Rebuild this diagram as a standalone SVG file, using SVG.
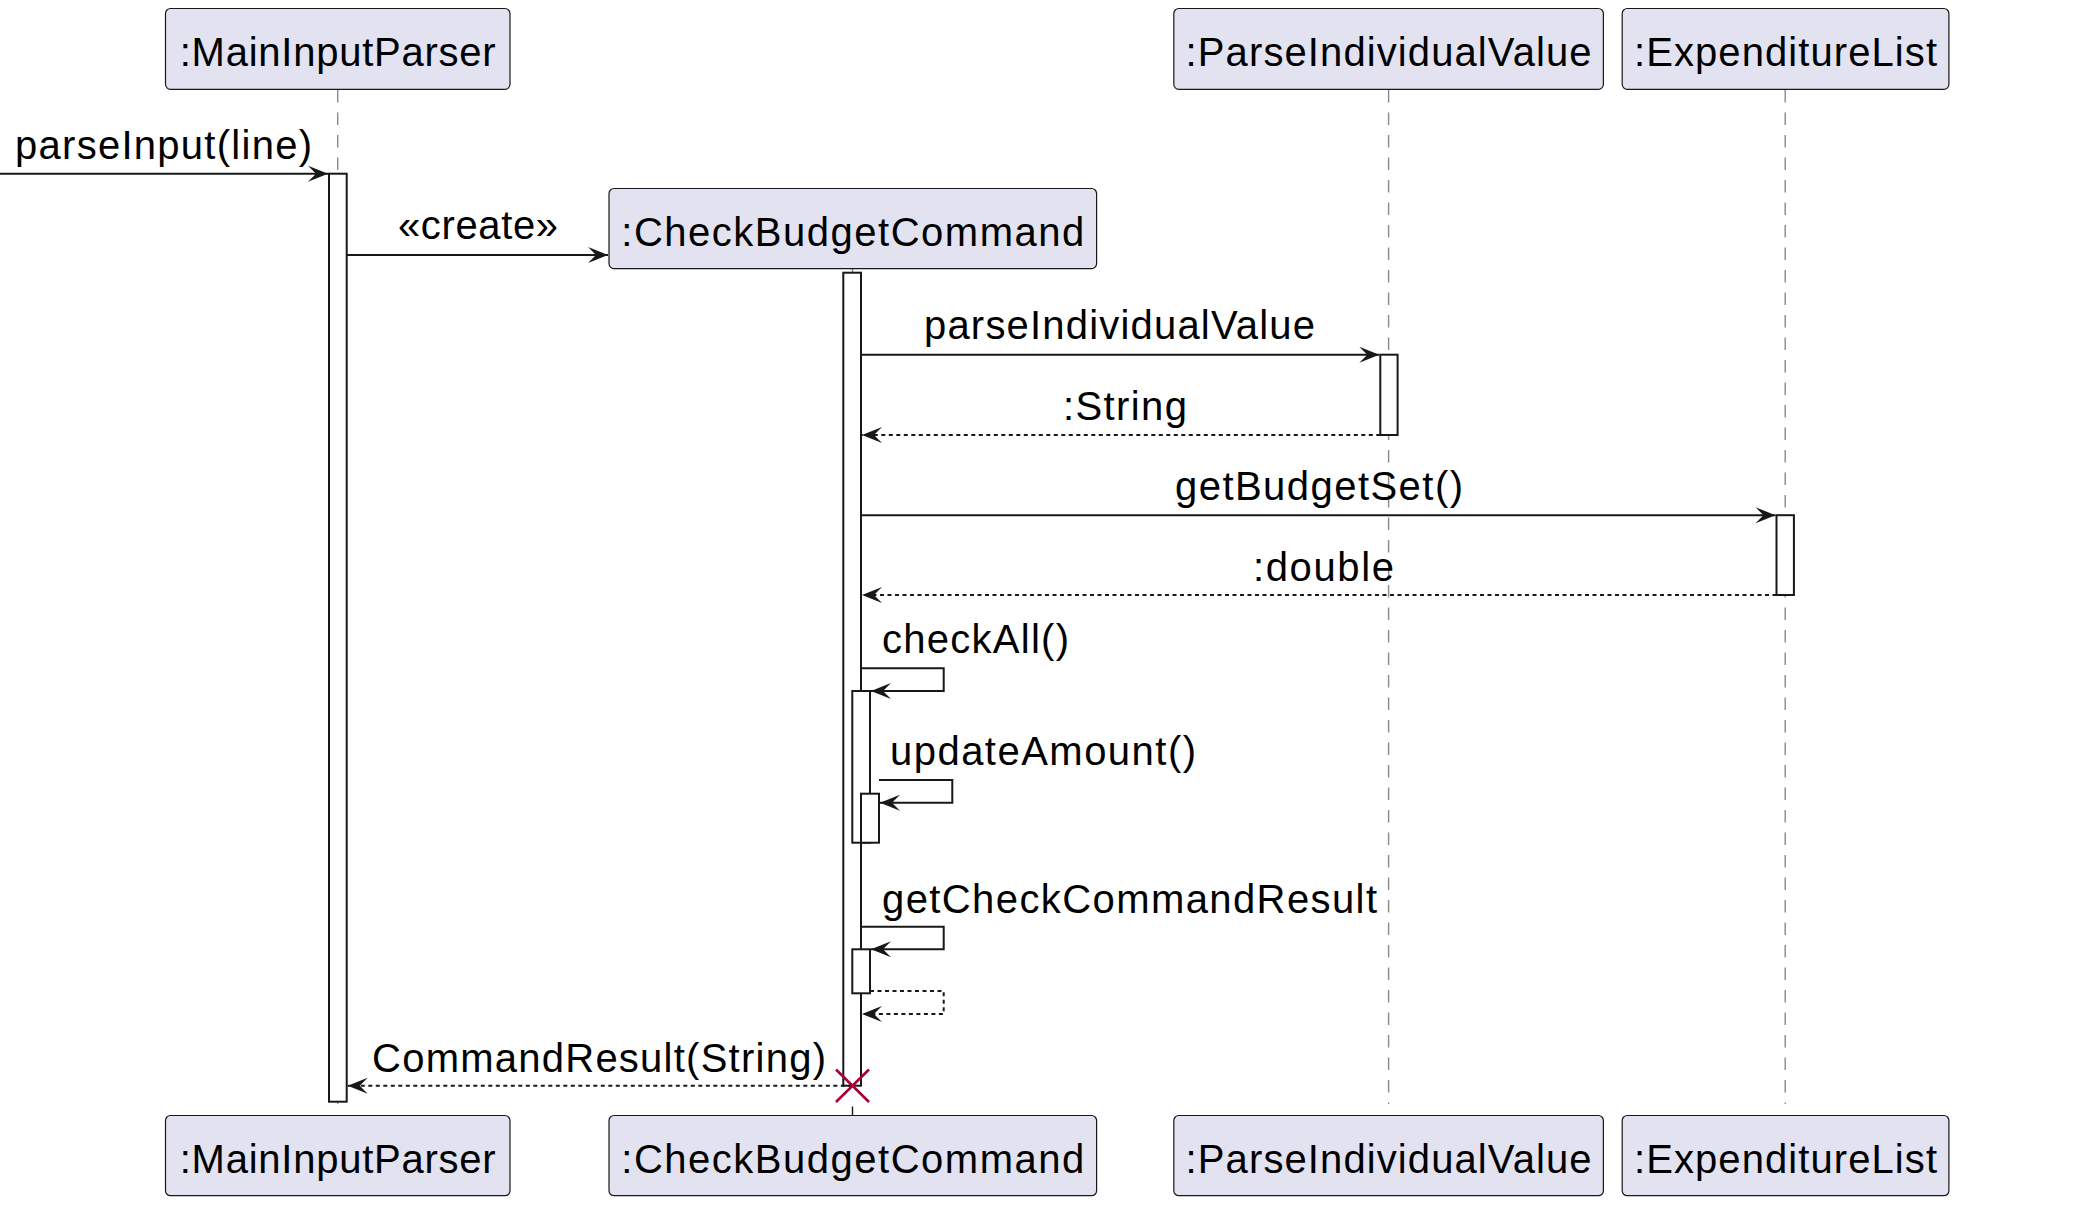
<svg xmlns="http://www.w3.org/2000/svg" width="2090" height="1232" viewBox="0 0 2090 1232">
<style>
.box{fill:#E2E2F0;stroke:#181818;stroke-width:1.2}
.t{font-family:"Liberation Sans",Arial,sans-serif;font-size:40px;fill:#000}
.life{stroke:#8a8a8a;stroke-width:1.4;stroke-dasharray:12.5 10;fill:none}
.act{fill:#FFFFFF;stroke:#181818;stroke-width:2}
.msg{stroke:#181818;stroke-width:2;fill:none}
.ret{stroke:#181818;stroke-width:2;fill:none;stroke-dasharray:4 3.5}
.x{stroke:#A80036;stroke-width:2.6}
</style>
<defs>
<marker id="ah" markerUnits="userSpaceOnUse" markerWidth="20" markerHeight="16" refX="20" refY="8" orient="auto" overflow="visible">
<path d="M0,0 L20,8 L0,16 L8,8 Z" fill="#181818"/>
</marker>
</defs>
<rect width="2090" height="1232" fill="#FFFFFF"/>

<g id="lifelines">
<line class="life" x1="337.7" y1="90" x2="337.7" y2="1104"/>
<line class="life" x1="852.5" y1="269" x2="852.5" y2="1085"/>
<line x1="852.5" y1="1106.5" x2="852.5" y2="1115.5" stroke="#181818" stroke-width="1.4"/>
<line class="life" x1="1388.6" y1="90" x2="1388.6" y2="1104"/>
<line class="life" x1="1785.2" y1="90" x2="1785.2" y2="1104"/>
</g>

<g id="MainInputParser">
<rect class="box" x="165.5" y="8.5" width="344.5" height="80.8" rx="5"/>
<text class="t" x="337.7" y="65.7" text-anchor="middle" textLength="316" lengthAdjust="spacing">:MainInputParser</text>
<rect class="box" x="165.5" y="1115.5" width="344.5" height="80.2" rx="5"/>
<text class="t" x="337.7" y="1173" text-anchor="middle" textLength="316" lengthAdjust="spacing">:MainInputParser</text>
</g>

<g id="CheckBudgetCommand">
<rect class="box" x="609" y="188.5" width="487.6" height="80.1" rx="5"/>
<text class="t" x="852.8" y="245.7" text-anchor="middle" textLength="463" lengthAdjust="spacing">:CheckBudgetCommand</text>
<rect class="box" x="609" y="1115.5" width="487.6" height="80.2" rx="5"/>
<text class="t" x="852.8" y="1173" text-anchor="middle" textLength="463" lengthAdjust="spacing">:CheckBudgetCommand</text>
</g>

<g id="ParseIndividualValue">
<rect class="box" x="1173.8" y="8.5" width="429.6" height="80.8" rx="5"/>
<text class="t" x="1388.6" y="65.7" text-anchor="middle" textLength="406" lengthAdjust="spacing">:ParseIndividualValue</text>
<rect class="box" x="1173.8" y="1115.5" width="429.6" height="80.2" rx="5"/>
<text class="t" x="1388.6" y="1173" text-anchor="middle" textLength="406" lengthAdjust="spacing">:ParseIndividualValue</text>
</g>

<g id="ExpenditureList">
<rect class="box" x="1622.2" y="8.5" width="326.7" height="80.8" rx="5"/>
<text class="t" x="1785.5" y="65.7" text-anchor="middle" textLength="303" lengthAdjust="spacing">:ExpenditureList</text>
<rect class="box" x="1622.2" y="1115.5" width="326.7" height="80.2" rx="5"/>
<text class="t" x="1785.5" y="1173" text-anchor="middle" textLength="303" lengthAdjust="spacing">:ExpenditureList</text>
</g>

<g id="activations">
<rect class="act" x="329" y="173.7" width="17.7" height="928"/>
<rect class="act" x="843.3" y="272.7" width="17.7" height="813"/>
<rect class="act" x="1380.3" y="354.7" width="17.3" height="80.3"/>
<rect class="act" x="1776.5" y="515.2" width="17.4" height="79.8"/>
<rect class="act" x="852.3" y="691" width="17.7" height="151.7"/>
<rect class="act" x="861" y="793.7" width="18" height="49"/>
<rect class="act" x="852.3" y="949.3" width="17.7" height="44"/>
</g>

<g id="connectors">
<line class="msg" x1="0" y1="173.7" x2="328" y2="173.7" marker-end="url(#ah)"/>
<text class="t" x="15" y="159.3" textLength="297" lengthAdjust="spacing">parseInput(line)</text>

<line class="msg" x1="346.7" y1="255" x2="608" y2="255" marker-end="url(#ah)"/>
<text class="t" x="398" y="239" textLength="160" lengthAdjust="spacing">«create»</text>

<line class="msg" x1="861" y1="354.7" x2="1379.3" y2="354.7" marker-end="url(#ah)"/>
<text class="t" x="924" y="339" textLength="391" lengthAdjust="spacing">parseIndividualValue</text>

<line class="ret" x1="1380.3" y1="435" x2="862" y2="435" marker-end="url(#ah)"/>
<text class="t" x="1063" y="420" textLength="124" lengthAdjust="spacing">:String</text>

<line class="msg" x1="861" y1="515.2" x2="1775.5" y2="515.2" marker-end="url(#ah)"/>
<text class="t" x="1175" y="500" textLength="288" lengthAdjust="spacing">getBudgetSet()</text>

<line class="ret" x1="1776.5" y1="595" x2="862" y2="595" marker-end="url(#ah)"/>
<text class="t" x="1253" y="581" textLength="141" lengthAdjust="spacing">:double</text>

<polyline class="msg" points="861,668.3 943.7,668.3 943.7,691 871,691" marker-end="url(#ah)"/>
<text class="t" x="882" y="653.3" textLength="187" lengthAdjust="spacing">checkAll()</text>

<polyline class="msg" points="879,780 952.3,780 952.3,802.7 880,802.7" marker-end="url(#ah)"/>
<text class="t" x="890" y="765" textLength="306" lengthAdjust="spacing">updateAmount()</text>

<polyline class="msg" points="861,926.7 943.7,926.7 943.7,949.3 871,949.3" marker-end="url(#ah)"/>
<text class="t" x="882" y="912.7" textLength="495" lengthAdjust="spacing">getCheckCommandResult</text>

<polyline class="ret" points="870,991 943.7,991 943.7,1014 862,1014" marker-end="url(#ah)"/>

<line class="ret" x1="852.3" y1="1085.7" x2="347.7" y2="1085.7" marker-end="url(#ah)"/>
<text class="t" x="372" y="1071.7" textLength="454" lengthAdjust="spacing">CommandResult(String)</text>
</g>

<g id="destroy">
<line class="x" x1="836" y1="1069.5" x2="869" y2="1102"/>
<line class="x" x1="836" y1="1102" x2="869" y2="1069.5"/>
</g>
</svg>
